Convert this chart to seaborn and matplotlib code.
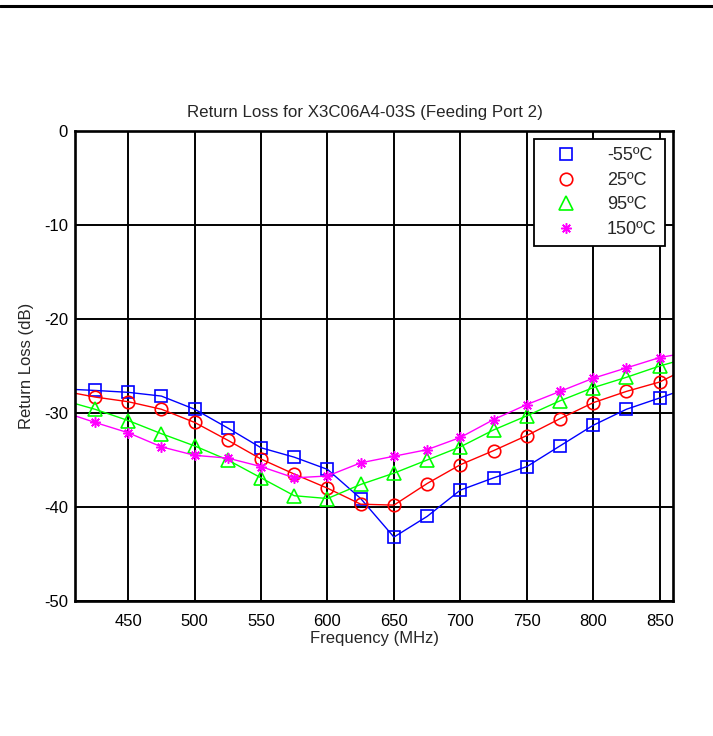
import numpy as np
import pandas as pd
import seaborn as sns
import matplotlib
matplotlib.use("Agg")
import matplotlib.pyplot as plt
from matplotlib.lines import Line2D

# measured points (markers every 25 MHz)
freq = [425, 450, 475, 500, 525, 550, 575, 600, 625, 650,
        675, 700, 725, 750, 775, 800, 825, 850]
rl_m55 = [-27.6, -27.8, -28.2, -29.6, -31.6, -33.7, -34.7, -36.0, -39.1, -43.2,
          -41.0, -38.2, -36.9, -35.7, -33.5, -31.3, -29.6, -28.4]
rl_25 = [-28.3, -28.8, -29.6, -31.0, -32.9, -34.9, -36.5, -38.0, -39.7, -39.8,
         -37.5, -35.5, -34.0, -32.4, -30.6, -28.9, -27.7, -26.7]
rl_95 = [-29.6, -30.8, -32.2, -33.5, -35.0, -36.9, -38.8, -39.1, -37.6, -36.4,
         -35.0, -33.6, -31.8, -30.3, -28.7, -27.3, -26.2, -25.0]
rl_150 = [-31.0, -32.1, -33.6, -34.5, -34.8, -35.7, -36.9, -36.7, -35.3, -34.6,
          -33.9, -32.6, -30.7, -29.1, -27.7, -26.3, -25.2, -24.1]

# curve values at the plot edges (410 and 860 MHz)
edge_freq = [410, 860]
edge_m55 = [-27.5, -27.9]
edge_25 = [-27.9, -26.0]
edge_95 = [-29.0, -24.6]
edge_150 = [-30.3, -23.85]

labels = ['-55ºC', '25ºC', '95ºC', '150ºC']
colors = ['#0000ff', '#ff0000', '#00ff00', '#ff00ff']
markers = ['s', 'o', '^', (8, 2, 0)]
msizes = [8.5, 9, 9.5, 7.5]

sns.set_style("white")
plt.rcParams['font.family'] = ['Liberation Sans', 'DejaVu Sans']
plt.rcParams['axes.unicode_minus'] = False

fig = plt.figure(figsize=(7.13, 7.36), dpi=100)
ax = fig.add_axes([75 / 713, 1 - 601 / 736, 598 / 713, 470 / 736])

series = [(rl_m55, edge_m55), (rl_25, edge_25), (rl_95, edge_95), (rl_150, edge_150)]
handles = []
for (vals, edge), lab, c, m, ms in zip(series, labels, colors, markers, msizes):
    df = pd.DataFrame({'f': [edge_freq[0]] + freq + [edge_freq[1]],
                       'rl': [edge[0]] + vals + [edge[1]]})
    sns.lineplot(data=df, x='f', y='rl', color=c, lw=1, ax=ax, sort=False)
    if m == (8, 2, 0):
        ax.plot(freq, vals, linestyle='none', marker=m, ms=ms, color=c, mew=1.1)
        h = Line2D([], [], linestyle='none', marker=m, ms=ms, color=c, mew=1.1)
    else:
        ax.plot(freq, vals, linestyle='none', marker=m, ms=ms, mfc='none', mec=c, mew=1.2)
        h = Line2D([], [], linestyle='none', marker=m, ms=ms, mfc='none', mec=c, mew=1.2)
    handles.append(h)

ax.set_xlim(410, 860)
ax.set_ylim(-50, 0)
ax.set_xticks([450, 500, 550, 600, 650, 700, 750, 800, 850])
ax.set_yticks([-50, -40, -30, -20, -10, 0])
ax.grid(True, color='black', lw=1.4)
ax.set_axisbelow(True)
for s in ax.spines.values():
    s.set_color('black')
    s.set_linewidth(1.9)
ax.tick_params(length=0, labelsize=12, colors='black', pad=5)
ax.tick_params(axis='x', pad=9)

ax.set_title('Return Loss for X3C06A4-03S (Feeding Port 2)', fontsize=12.2, pad=10, x=0.485)
ax.set_xlabel('Frequency (MHz)', fontsize=12, labelpad=2)
ax.set_ylabel('Return Loss (dB)', fontsize=12, labelpad=7)

leg = ax.legend(handles, labels, loc='upper right', fontsize=13, frameon=True,
                fancybox=False, edgecolor='black', framealpha=1,
                borderaxespad=0.45, handletextpad=1.0, labelspacing=0.42,
                borderpad=0.45, handlelength=2.6)
leg.get_frame().set_linewidth(1.3)

# rule across the top of the page
fig.add_artist(Line2D([0, 1], [1 - 6 / 736, 1 - 6 / 736], color='black', lw=2.2,
                      transform=fig.transFigure))

fig.savefig('out.png', dpi=100)
